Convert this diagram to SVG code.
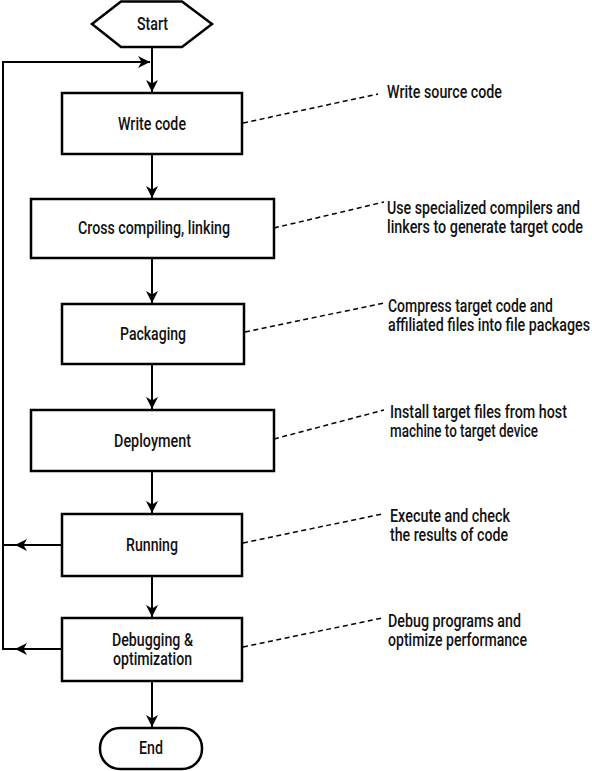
<svg xmlns="http://www.w3.org/2000/svg" width="592" height="771" viewBox="0 0 592 771">
<style>
.box{fill:#fff;stroke:#000;stroke-width:2.5}
.t{font-family:Roboto,"Liberation Sans",Arial,sans-serif;font-weight:500;font-size:18px;fill:#111;text-anchor:middle}
.a{font-family:Roboto,"Liberation Sans",Arial,sans-serif;font-weight:500;font-size:18px;fill:#111}
.c{fill:none;stroke:#000;stroke-width:2}
.d{fill:none;stroke:#000;stroke-width:1.5;stroke-dasharray:5 3.5}
</style>
<defs>
<marker id="ah" markerUnits="userSpaceOnUse" markerWidth="13" markerHeight="13" refX="12" refY="6" orient="auto">
<path d="M0,0 L12,6 L0,12 L3.5,6 z" fill="#000"/>
</marker>
</defs>
<rect width="592" height="771" fill="#fff"/>
<g id="connectors">
<path class="c" d="M152,47 V92" marker-end="url(#ah)"/>
<path class="c" d="M152,154 V198" marker-end="url(#ah)"/>
<path class="c" d="M152,258 V303" marker-end="url(#ah)"/>
<path class="c" d="M152,364 V409" marker-end="url(#ah)"/>
<path class="c" d="M152,471 V513" marker-end="url(#ah)"/>
<path class="c" d="M152,576 V617" marker-end="url(#ah)"/>
<path class="c" d="M152,681 V727" marker-end="url(#ah)"/>
<path class="c" d="M15,649 H3 V62 H150" marker-end="url(#ah)"/>
<path class="c" d="M62,649 H15" marker-end="url(#ah)"/>
<path class="c" d="M62,545 H15" marker-end="url(#ah)"/>
<path class="c" d="M15,545 H3"/>
<path class="d" d="M243,123 L378,94"/>
<path class="d" d="M274,228 L384,202"/>
<path class="d" d="M245,332 L384,303"/>
<path class="d" d="M274,439 L384,410"/>
<path class="d" d="M243,543 L382,514"/>
<path class="d" d="M243,647 L382,618"/>
</g>
<g id="start">
<polygon class="box" points="92,24 121,1.5 182,1.5 212,24 182,47 121,47"/>
<text class="t" transform="scale(0.79,1)" x="193.04" y="30" textLength="39.24" lengthAdjust="spacingAndGlyphs">Start</text>
</g>
<g id="write-code">
<rect class="box" x="62" y="93" width="180" height="61"/>
<text class="t" transform="scale(0.79,1)" x="192.41" y="130" textLength="86.08" lengthAdjust="spacingAndGlyphs">Write code</text>
</g>
<g id="cross-compiling">
<rect class="box" x="31" y="199" width="243" height="59"/>
<text class="t" transform="scale(0.79,1)" x="194.94" y="234" textLength="192.41" lengthAdjust="spacingAndGlyphs">Cross compiling, linking</text>
</g>
<g id="packaging">
<rect class="box" x="62" y="304" width="182" height="60"/>
<text class="t" transform="scale(0.79,1)" x="193.67" y="340" textLength="83.54" lengthAdjust="spacingAndGlyphs">Packaging</text>
</g>
<g id="deployment">
<rect class="box" x="31" y="410" width="243" height="61"/>
<text class="t" transform="scale(0.79,1)" x="193.04" y="447" textLength="97.47" lengthAdjust="spacingAndGlyphs">Deployment</text>
</g>
<g id="running">
<rect class="box" x="62" y="514" width="180" height="62"/>
<text class="t" transform="scale(0.79,1)" x="192.41" y="551" textLength="65.82" lengthAdjust="spacingAndGlyphs">Running</text>
</g>
<g id="debugging">
<rect class="box" x="62" y="618" width="180" height="63"/>
<text class="t" transform="scale(0.79,1)" x="193.04" y="646" textLength="102.53" lengthAdjust="spacingAndGlyphs">Debugging &amp;</text>
<text class="t" transform="scale(0.79,1)" x="193.04" y="665" textLength="100" lengthAdjust="spacingAndGlyphs">optimization</text>
</g>
<g id="end">
<rect class="box" x="100" y="728" width="102" height="41" rx="20" ry="20"/>
<text class="t" transform="scale(0.79,1)" x="191.14" y="754" textLength="30.38" lengthAdjust="spacingAndGlyphs">End</text>
</g>
<g id="notes">
<text class="a" transform="scale(0.79,1)" x="489.87" y="98" textLength="145.57" lengthAdjust="spacingAndGlyphs">Write source code</text>
<text class="a" transform="scale(0.79,1)" x="489.87" y="214" textLength="244.3" lengthAdjust="spacingAndGlyphs">Use specialized compilers and</text>
<text class="a" transform="scale(0.79,1)" x="489.87" y="233" textLength="248.1" lengthAdjust="spacingAndGlyphs">linkers to generate target code</text>
<text class="a" transform="scale(0.79,1)" x="491.14" y="312" textLength="208.86" lengthAdjust="spacingAndGlyphs">Compress target code and</text>
<text class="a" transform="scale(0.79,1)" x="491.14" y="331" textLength="255.7" lengthAdjust="spacingAndGlyphs">affiliated files into file packages</text>
<text class="a" transform="scale(0.79,1)" x="493.67" y="418" textLength="224.05" lengthAdjust="spacingAndGlyphs">Install target files from host</text>
<text class="a" transform="scale(0.79,1)" x="493.67" y="437" textLength="187.34" lengthAdjust="spacingAndGlyphs">machine to target device</text>
<text class="a" transform="scale(0.79,1)" x="493.67" y="522" textLength="151.9" lengthAdjust="spacingAndGlyphs">Execute and check</text>
<text class="a" transform="scale(0.79,1)" x="493.67" y="541" textLength="149.37" lengthAdjust="spacingAndGlyphs">the results of code</text>
<text class="a" transform="scale(0.79,1)" x="491.14" y="627" textLength="168.35" lengthAdjust="spacingAndGlyphs">Debug programs and</text>
<text class="a" transform="scale(0.79,1)" x="491.14" y="646" textLength="175.95" lengthAdjust="spacingAndGlyphs">optimize performance</text>
</g>
</svg>
